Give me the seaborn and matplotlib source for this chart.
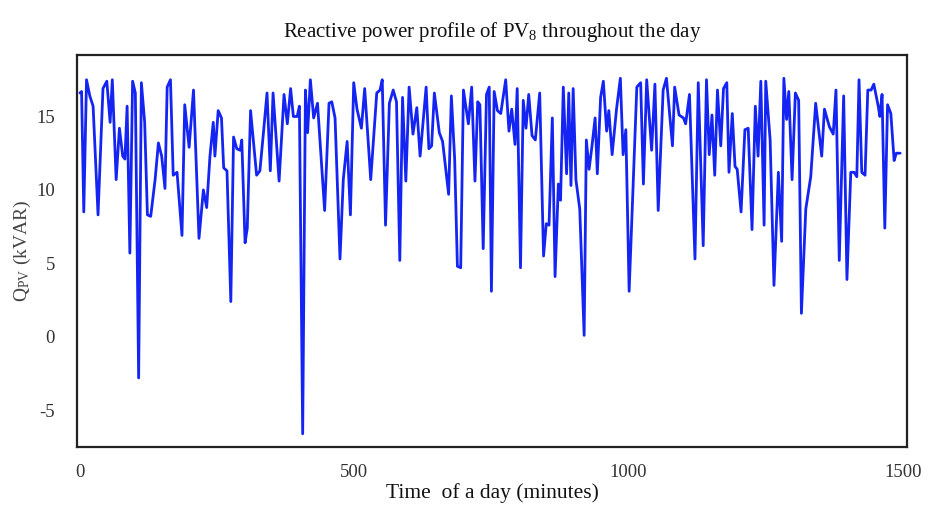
import matplotlib
matplotlib.use("Agg")
import matplotlib.pyplot as plt
import seaborn as sns
import pandas as pd

# Time of day (minutes) and reactive power Q_PV (kVAR)
time_min = [0, 3, 7, 12, 18, 24, 33, 42, 49, 55, 59, 66, 72, 78, 82, 86, 91, 96, 101, 107, 112, 118, 123, 129, 137,
            143, 149, 155, 159, 165, 170, 177, 186, 191, 199, 207, 217, 225, 231, 237, 243,
            246, 252, 258, 262, 268, 275, 280, 286, 292, 295, 301, 305, 311, 322, 328, 334, 341, 347, 352, 363,
            372, 378, 384, 389, 396, 400, 406, 411, 415, 420, 426, 433, 446, 454, 459, 465, 474, 480, 487, 493, 499,
            505, 513, 519, 530, 541, 547, 551, 557, 564, 571, 577, 583, 588, 594, 600, 607, 614, 620, 631, 636,
            641, 646, 655, 661, 672, 677, 683, 688, 694, 699, 708, 714, 720, 725, 729, 735, 741, 746, 750,
            755, 761, 767, 776, 782, 787, 793, 797, 803, 808, 813, 818, 824, 830, 838, 845, 850, 855, 861, 866,
            872, 876, 881, 887, 891, 895, 899, 904, 911, 919, 923, 928, 933, 939, 943, 949, 954, 960, 964, 970,
            978, 985, 990, 995, 1001,
            1015, 1022, 1027, 1033, 1042, 1048, 1054, 1063, 1069, 1080, 1084, 1092, 1100, 1104, 1111, 1121, 1127,
            1136, 1142, 1147, 1152, 1157, 1162, 1168, 1173, 1179, 1183, 1189, 1194, 1198, 1205, 1212, 1218, 1225,
            1231, 1236, 1241, 1247, 1250, 1258, 1265,
            1273, 1279, 1283, 1288, 1292, 1298, 1304, 1310, 1315, 1323, 1332, 1341, 1352, 1357, 1366, 1373, 1378,
            1384, 1392, 1398, 1405, 1411, 1416, 1420, 1425, 1431, 1436, 1442, 1447, 1455, 1458, 1462, 1467, 1472,
            1478, 1484, 1488, 1495]
q_pv = [16.6, 16.7, 8.5, 17.5, 16.4, 15.7, 8.3, 16.9, 17.4, 14.6, 17.5, 10.7, 14.2, 12.3, 12.1, 15.7, 5.7, 17.4,
        16.6, -2.8, 17.3, 14.6, 8.3, 8.2, 10.7, 13.2, 12.3, 10.1, 17.0, 17.5, 11.0, 11.2, 6.9, 15.8, 12.9, 16.8,
        6.7, 10.0, 8.8, 12.3, 14.6,
        12.3, 15.4, 14.9, 11.5, 11.3, 2.4, 13.6, 12.8, 12.7, 13.4, 6.4, 7.4, 15.4, 11.0, 11.3, 13.7, 16.6, 11.3,
        16.6, 10.6, 16.5, 14.5, 16.9, 15.0, 15.0, 15.7, -6.6, 16.8, 13.9, 17.5, 14.9, 15.9, 8.6, 15.9, 16.0,
        14.9, 5.3, 10.7, 13.3, 8.3, 17.3,
        15.5, 14.2, 16.9, 10.7, 16.6, 16.8, 17.5, 7.6, 15.9, 16.8, 16.0, 5.2, 16.3, 10.6, 17.0, 13.8, 15.6, 12.3,
        17.0, 12.8, 13.0, 16.6, 13.9, 13.3, 9.7, 16.4, 12.1, 4.8, 4.7, 16.8, 14.5, 17.0, 10.6, 16.0, 15.8, 6.0,
        16.5, 17.0, 3.1,
        16.7, 15.4, 15.2, 17.5, 14.0, 15.5, 13.1, 16.9, 4.7, 16.1, 14.2, 16.5, 13.7, 13.4, 16.6, 5.5, 7.7, 7.6,
        14.9, 4.1, 10.4, 9.3, 17.0, 11.1, 16.6, 10.3, 16.9, 10.7, 8.7, 0.1, 13.4, 11.4, 12.9, 14.9, 11.1, 16.3,
        17.4, 14.0, 15.4, 12.4, 15.5, 17.6, 12.4, 14.1, 3.1,
        17.0, 17.3, 10.4, 17.5, 12.7, 17.2, 8.6, 16.8, 17.6, 13.0, 17.0, 15.1, 14.9, 14.5, 16.5, 5.3, 17.3, 6.2,
        17.5, 12.4, 15.1, 11.0, 16.8, 13.0, 16.9, 17.3, 11.2, 15.2, 11.6, 11.4, 8.5, 14.1, 14.2, 7.3, 15.7, 12.3,
        17.4, 7.6, 17.4, 13.4, 3.5,
        11.2, 6.5, 17.6, 14.8, 16.7, 10.7, 16.6, 16.1, 1.6, 8.7, 10.9, 15.9, 12.3, 15.5, 14.3, 13.8, 16.8, 5.2,
        16.4, 3.9, 11.2, 11.2, 10.9, 17.5, 11.2, 11.0, 16.8, 16.8, 17.2, 15.7, 15.0, 16.5, 7.4, 15.8, 15.2, 12.0,
        12.5, 12.5]

x_ticks = [0, 500, 1000, 1500]
y_ticks = [-5, 0, 5, 10, 15]

df = pd.DataFrame({"time": time_min, "q": q_pv})

sns.set_style("white")
plt.rcParams["font.family"] = ["Liberation Serif", "DejaVu Serif"]
plt.rcParams["mathtext.fontset"] = "custom"
plt.rcParams["mathtext.rm"] = "Liberation Serif"
plt.rcParams["mathtext.it"] = "Liberation Serif"

fig = plt.figure(figsize=(9.3, 5.12), dpi=100)
ax = fig.add_axes([0.083, 0.127, 0.892, 0.766])

sns.lineplot(data=df, x="time", y="q", ax=ax, color="#1424f2", linewidth=2.0,
             sort=False, estimator=None)

ax.set_xlim(-5, 1507)
ax.set_ylim(-7.5, 19.2)
ax.set_xticks(x_ticks)
ax.set_yticks(y_ticks)
ax.set_xticklabels([str(v) for v in x_ticks])
ax.set_yticklabels([str(v) for v in y_ticks])
ax.tick_params(axis="both", direction="in", length=3, width=1.2, colors="#222222",
               labelsize=13.5, labelcolor="#333333")
ax.tick_params(axis="x", pad=12)
ax.tick_params(axis="y", pad=16)

for s in ax.spines.values():
    s.set_color("#222222")
    s.set_linewidth(1.6)

ax.set_title("Reactive power profile of PV$_8$ throughout the day", fontsize=15, pad=13, color="#111111")
ax.set_xlabel("Time  of a day (minutes)", fontsize=15.5, labelpad=2, color="#111111")
ax.set_ylabel("Q$_{PV}$ (kVAR)", fontsize=14, labelpad=2, color="#444444")

fig.savefig("out.png", dpi=100)
